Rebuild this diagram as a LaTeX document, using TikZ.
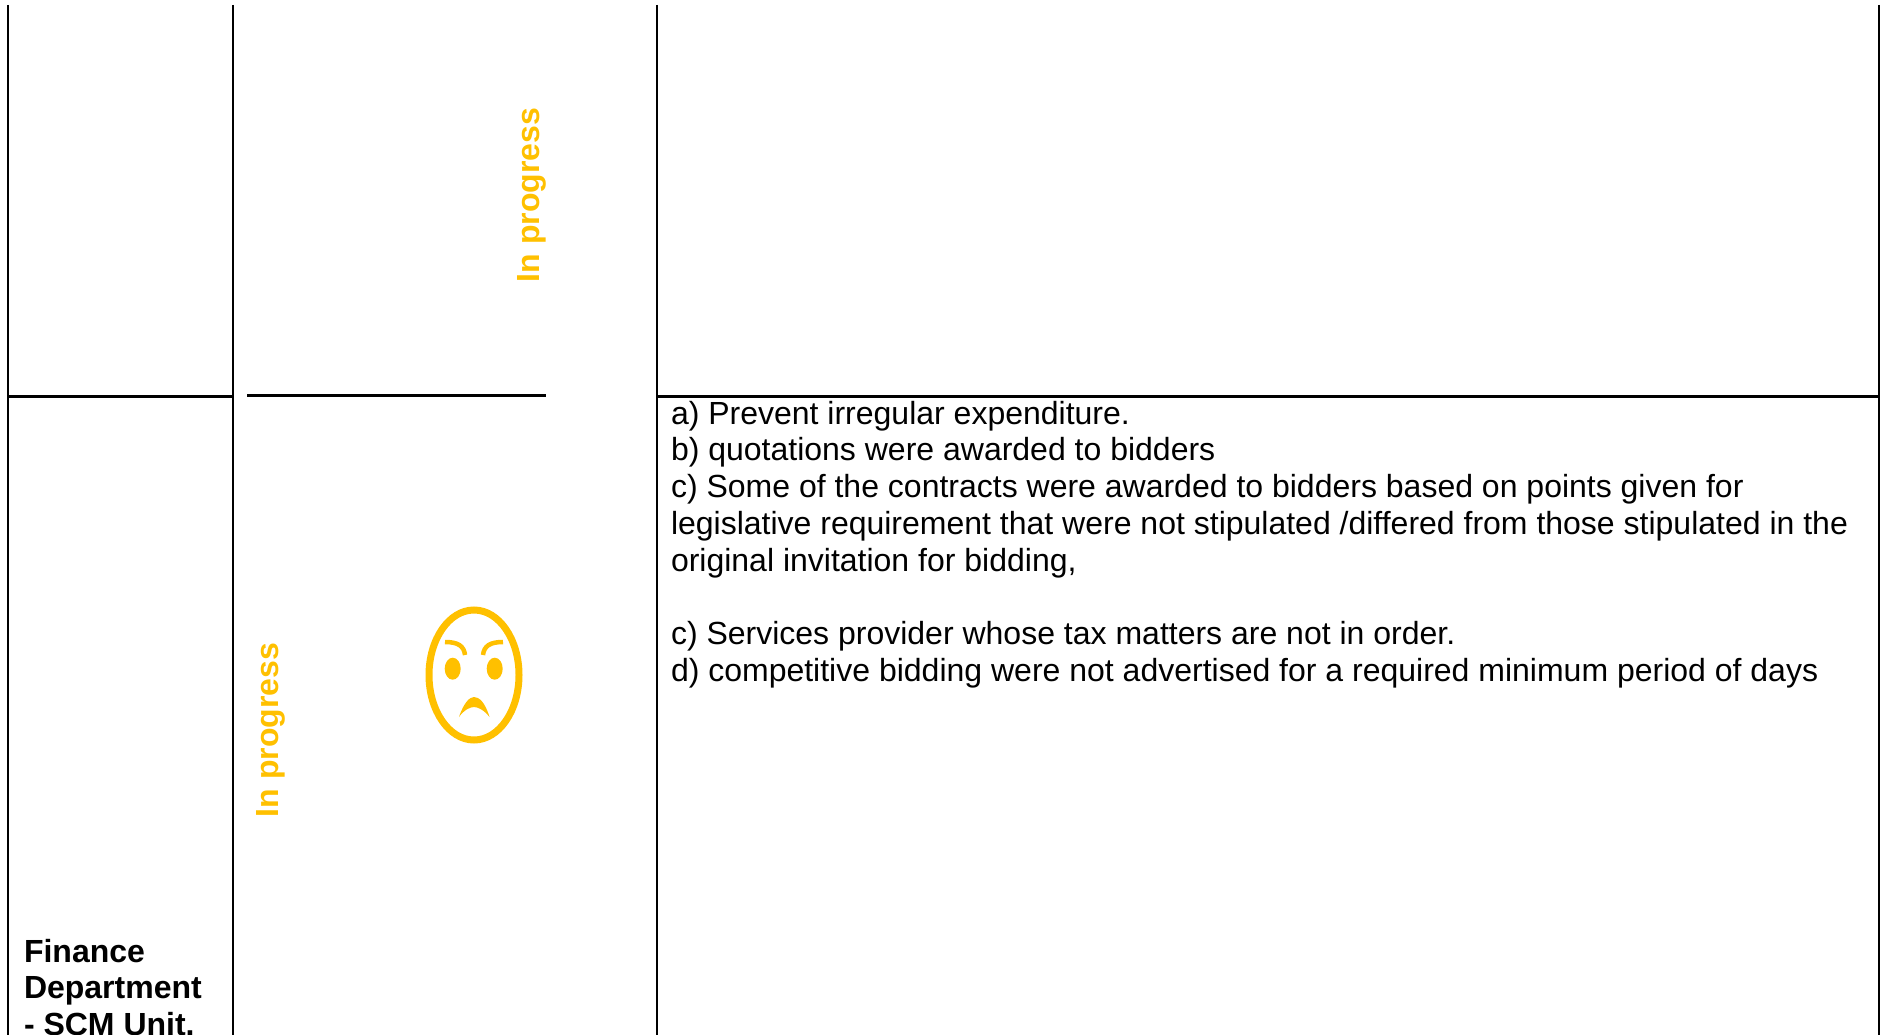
\documentclass[tikz,border=0pt]{standalone}
\usepackage{fontspec}
\setmainfont{Liberation Sans}
\definecolor{amber}{HTML}{FFC000}
\tikzset{
  x=1pt,y=-1pt,
  rule/.style={line width=2.4pt,black},
  cell/.style={inner sep=0pt,outer sep=0pt,font=\fontsize{32}{36.8}\selectfont,align=left,text=black},
  head/.style={cell,font=\fontsize{32}{36.8}\selectfont\bfseries,anchor=south west},
  status/.style={inner sep=0pt,outer sep=0pt,font=\fontsize{32}{36.8}\selectfont\bfseries,text=amber,rotate=90,anchor=base west},
}
\begin{document}
\begin{tikzpicture}
\useasboundingbox (0,0) rectangle (1881,1035);
% grid points
\coordinate (a0) at (8,5);   \coordinate (a1) at (8,1035);
\coordinate (b0) at (233,5); \coordinate (b1) at (233,1035);
\coordinate (c0) at (657,5); \coordinate (c1) at (657,1035);
\coordinate (d0) at (1879,5);\coordinate (d1) at (1879,1035);
\coordinate (l1) at (8,396.5);  \coordinate (l2) at (233,396.5);
\coordinate (m1) at (247,395.5);\coordinate (m2) at (546,395.5);
\coordinate (r1) at (657,396.5);\coordinate (r2) at (1879,396.5);
\draw[rule] (a0) -- (a1);
\draw[rule] (b0) -- (b1);
\draw[rule] (c0) -- (c1);
\draw[rule] (d0) -- (d1);
\draw[rule] (l1) -- (l2);
\draw[rule] (m1) -- (m2);
\draw[rule] (r1) -- (r2);
% status labels
\node[status] (st1) at (539,282) {In progress};
\node[status] (st2) at (278,817) {In progress};
% department
\node[head] (dept) at (24,1036) {Finance\\Department\\- SCM Unit.};
% findings
\node[cell,anchor=north west] (txt) at (671,401) {a) Prevent irregular expenditure.\\
b) quotations were awarded to bidders\\
c) Some of the contracts were awarded to bidders based on points given for\\
legislative requirement that were not stipulated /differed from those stipulated in the\\
original invitation for bidding,\\[36.8pt]
c) Services provider whose tax matters are not in order.\\
d) competitive bidding were not advertised for a required minimum period of days};
% face
\draw[amber,line width=7pt] (474,675) ellipse [x radius=45,y radius=65];
\fill[amber] (452.7,668.7) ellipse [x radius=8,y radius=11];
\fill[amber] (494.7,668.7) ellipse [x radius=8,y radius=11];
\draw[amber,line width=4.5pt] (445,642) .. controls (458,642) and (464,646) .. (465,655);
\draw[amber,line width=4.5pt] (503,642) .. controls (490,642) and (484,646) .. (483,655);
\fill[amber] (459,717) .. controls (464,702) and (470,697) .. (474,697) .. controls (479,697) and (485,702) .. (489.5,717) .. controls (484,710) and (478,707) .. (474,707) .. controls (470,707) and (464,710) .. (459,717) -- cycle;
\end{tikzpicture}
\end{document}
